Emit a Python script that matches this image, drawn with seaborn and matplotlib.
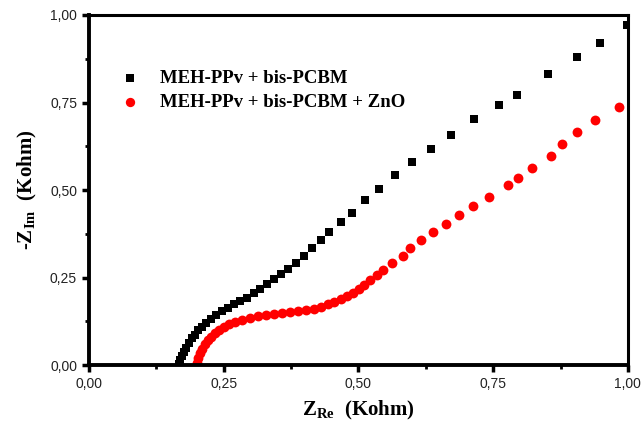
import numpy as np
import pandas as pd
import matplotlib
matplotlib.use('Agg')
import matplotlib.pyplot as plt
import seaborn as sns
from matplotlib.ticker import MultipleLocator, FuncFormatter

# Nyquist data (kOhm)
zre_ref = [0.167, 0.169, 0.173, 0.177, 0.180, 0.186, 0.191, 0.197, 0.203, 0.210,
           0.217, 0.227, 0.236, 0.247, 0.258, 0.270, 0.281, 0.293, 0.306, 0.318,
           0.330, 0.343, 0.356, 0.370, 0.385, 0.400, 0.414, 0.430, 0.446, 0.467,
           0.489, 0.512, 0.539, 0.568, 0.599, 0.634, 0.672, 0.714, 0.761, 0.794,
           0.851, 0.905, 0.948, 0.998]
zim_ref = [0.004, 0.014, 0.026, 0.037, 0.050, 0.063, 0.076, 0.087, 0.099, 0.110,
           0.121, 0.133, 0.143, 0.154, 0.164, 0.174, 0.184, 0.193, 0.205, 0.216,
           0.231, 0.245, 0.259, 0.275, 0.292, 0.313, 0.333, 0.356, 0.381, 0.409,
           0.435, 0.471, 0.502, 0.542, 0.581, 0.618, 0.658, 0.702, 0.744, 0.771,
           0.831, 0.880, 0.920, 0.971]

zre_zno = [0.201, 0.203, 0.206, 0.210, 0.216, 0.221, 0.227, 0.234, 0.242, 0.251,
           0.260, 0.271, 0.284, 0.299, 0.314, 0.329, 0.344, 0.359, 0.374, 0.388,
           0.403, 0.418, 0.431, 0.444, 0.455, 0.467, 0.478, 0.490, 0.502, 0.510,
           0.522, 0.535, 0.546, 0.563, 0.583, 0.596, 0.616, 0.638, 0.662, 0.686,
           0.713, 0.742, 0.777, 0.796, 0.823, 0.857, 0.877, 0.905, 0.939, 0.984]
zim_zno = [0.007, 0.020, 0.034, 0.047, 0.060, 0.071, 0.081, 0.091, 0.100, 0.109,
           0.116, 0.123, 0.129, 0.134, 0.139, 0.143, 0.146, 0.149, 0.151, 0.154,
           0.157, 0.161, 0.167, 0.174, 0.181, 0.190, 0.198, 0.205, 0.218, 0.228,
           0.242, 0.257, 0.272, 0.291, 0.311, 0.335, 0.356, 0.381, 0.403, 0.429,
           0.453, 0.481, 0.514, 0.535, 0.563, 0.597, 0.631, 0.666, 0.700, 0.736]

labels = ['MEH-PPv + bis-PCBM', 'MEH-PPv + bis-PCBM + ZnO']

sns.set_style('ticks', {'axes.edgecolor': 'black', 'xtick.color': 'black',
                        'ytick.color': 'black', 'text.color': 'black',
                        'axes.labelcolor': 'black'})
plt.rcParams['font.family'] = ['Liberation Sans', 'DejaVu Sans']
plt.rcParams['mathtext.fontset'] = 'custom'
plt.rcParams['mathtext.bf'] = 'Liberation Serif:bold'
plt.rcParams['mathtext.rm'] = 'Liberation Serif:bold'

fig = plt.figure(figsize=(6.44, 4.28), dpi=100)
ax = fig.add_axes([0.138, 0.147, 0.837, 0.818])

sns.scatterplot(x=zre_ref, y=zim_ref, color='black', marker='s',
                s=38, linewidth=0, label=labels[0], ax=ax)
sns.scatterplot(x=zre_zno, y=zim_zno, color='#ff0000', marker='o',
                s=50, linewidth=0, label=labels[1], ax=ax)

ax.set_xlim(0, 1)
ax.set_ylim(0, 1)
ax.xaxis.set_major_locator(MultipleLocator(0.25))
ax.yaxis.set_major_locator(MultipleLocator(0.25))
ax.xaxis.set_minor_locator(MultipleLocator(0.125))
ax.yaxis.set_minor_locator(MultipleLocator(0.125))
fmt = FuncFormatter(lambda v, p: f'{v:.2f}'.replace('.', ','))
ax.xaxis.set_major_formatter(fmt)
ax.yaxis.set_major_formatter(fmt)
ax.tick_params(which='major', direction='out', length=5, width=2.5,
               labelsize=10, labelcolor='#222222')
ax.tick_params(which='minor', direction='out', length=3, width=2)
for side in ['left', 'bottom']:
    ax.spines[side].set_linewidth(2.8)
for side in ['top', 'right']:
    ax.spines[side].set_linewidth(2.2)

ax.set_xlabel(r'Z$_{\mathrm{Re}}$  (Kohm)', family='Liberation Serif',
              fontweight='bold', fontsize=15, labelpad=6)
ax.set_ylabel(r'-Z$_{\mathrm{Im}}$  (Kohm)', family='Liberation Serif',
              fontweight='bold', fontsize=15, labelpad=8)

leg = ax.legend(loc='upper left', bbox_to_anchor=(0.059, 0.842), frameon=False,
                prop={'family': 'Liberation Serif', 'weight': 'bold', 'size': 13.5},
                borderaxespad=0, borderpad=0, handlelength=1.0,
                handletextpad=1.1, labelspacing=0.33, markerscale=0.95)

plt.savefig('out.png', dpi=100)
